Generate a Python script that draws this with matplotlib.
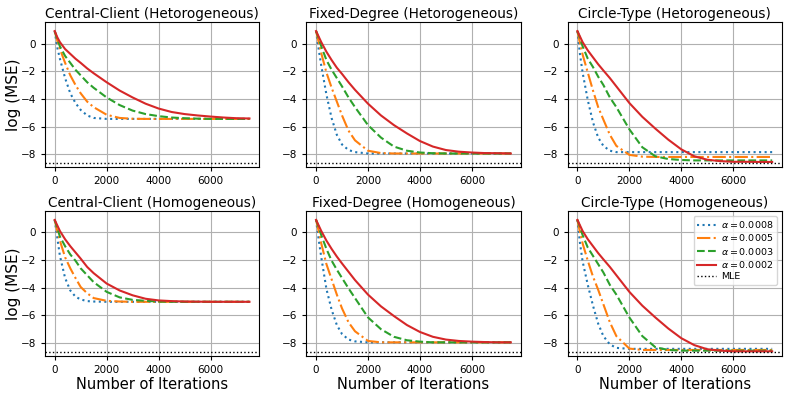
import matplotlib
matplotlib.use("Agg")
import matplotlib.pyplot as plt

iters = [0, 100, 200, 400, 600, 800, 1000, 1250, 1500, 2000, 2500, 3000,
         3500, 4000, 4500, 5000, 5500, 6000, 6500, 7000, 7500]

titles = ["Central-Client (Hetorogeneous)", "Fixed-Degree (Hetorogeneous)", "Circle-Type (Hetorogeneous)",
          "Central-Client (Homogeneous)", "Fixed-Degree (Homogeneous)", "Circle-Type (Homogeneous)"]

alpha_labels = [r"$\alpha = 0.0008$", r"$\alpha = 0.0005$", r"$\alpha = 0.0003$", r"$\alpha = 0.0002$"]
mle_value = -8.63

# Central-Client (Het)
cc_het_a8 = [0.9, -0.3, -1.1, -2.5, -3.6, -4.3, -4.8, -5.2, -5.38, -5.45, -5.45, -5.45, -5.45, -5.45, -5.45, -5.45, -5.45, -5.45, -5.45, -5.45, -5.45]
cc_het_a5 = [0.9, 0.2, -0.4, -1.4, -2.3, -3.0, -3.6, -4.2, -4.6, -5.15, -5.38, -5.44, -5.45, -5.45, -5.45, -5.45, -5.45, -5.45, -5.45, -5.45, -5.45]
cc_het_a3 = [0.9, 0.3, -0.2, -0.9, -1.4, -1.9, -2.3, -2.8, -3.2, -3.9, -4.45, -4.85, -5.1, -5.25, -5.35, -5.4, -5.43, -5.45, -5.45, -5.45, -5.45]
cc_het_a2 = [0.9, 0.45, 0.1, -0.4, -0.75, -1.1, -1.4, -1.8, -2.15, -2.8, -3.4, -3.9, -4.35, -4.7, -4.95, -5.1, -5.2, -5.28, -5.35, -5.4, -5.42]

# Fixed-Degree (Het)
fd_het_a8 = [0.9, -0.4, -1.6, -3.7, -5.4, -6.6, -7.3, -7.7, -7.85, -7.95, -7.95, -7.95, -7.95, -7.95, -7.95, -7.95, -7.95, -7.95, -7.95, -7.95, -7.95]
fd_het_a5 = [0.9, 0.1, -0.7, -2.1, -3.2, -4.2, -5.2, -6.3, -7.0, -7.75, -7.92, -7.95, -7.95, -7.95, -7.95, -7.95, -7.95, -7.95, -7.95, -7.95, -7.95]
fd_het_a3 = [0.9, 0.4, -0.2, -1.2, -1.9, -2.5, -3.1, -3.9, -4.6, -5.9, -6.8, -7.45, -7.75, -7.88, -7.93, -7.95, -7.95, -7.95, -7.95, -7.95, -7.95]
fd_het_a2 = [0.9, 0.5, 0.1, -0.6, -1.2, -1.75, -2.2, -2.8, -3.35, -4.35, -5.2, -5.9, -6.5, -7.05, -7.45, -7.7, -7.82, -7.88, -7.92, -7.93, -7.95]

# Circle-Type (Het)
ct_het_a8 = [0.9, -0.8, -2.1, -4.1, -5.7, -6.8, -7.4, -7.75, -7.85, -7.85, -7.85, -7.85, -7.85, -7.85, -7.85, -7.85, -7.85, -7.85, -7.85, -7.85, -7.85]
ct_het_a5 = [0.9, 0.0, -0.8, -2.1, -3.4, -4.6, -5.5, -6.6, -7.4, -8.05, -8.18, -8.2, -8.2, -8.2, -8.2, -8.2, -8.2, -8.2, -8.2, -8.2, -8.2]
ct_het_a3 = [0.9, 0.4, -0.2, -1.1, -1.7, -2.4, -3.0, -3.9, -4.6, -6.2, -7.5, -8.15, -8.35, -8.42, -8.45, -8.45, -8.45, -8.45, -8.45, -8.45, -8.45]
ct_het_a2 = [0.9, 0.5, 0.1, -0.5, -1.0, -1.5, -1.95, -2.5, -3.1, -4.3, -5.3, -6.15, -6.95, -7.65, -8.15, -8.4, -8.5, -8.55, -8.55, -8.56, -8.56]

# Central-Client (Hom)
cc_hom_a8 = [0.9, -0.4, -1.7, -3.3, -4.2, -4.65, -4.85, -4.97, -5.0, -5.02, -5.02, -5.02, -5.02, -5.02, -5.02, -5.02, -5.02, -5.02, -5.02, -5.02, -5.02]
cc_hom_a5 = [0.9, 0.1, -0.6, -1.8, -2.6, -3.3, -3.95, -4.4, -4.75, -4.95, -5.0, -5.02, -5.02, -5.02, -5.02, -5.02, -5.02, -5.02, -5.02, -5.02, -5.02]
cc_hom_a3 = [0.9, 0.3, -0.3, -1.0, -1.6, -2.05, -2.6, -3.1, -3.6, -4.3, -4.7, -4.88, -4.95, -5.0, -5.02, -5.02, -5.02, -5.02, -5.02, -5.02, -5.02]
cc_hom_a2 = [0.9, 0.5, 0.1, -0.5, -1.0, -1.45, -1.9, -2.5, -2.95, -3.7, -4.2, -4.55, -4.8, -4.92, -4.97, -5.0, -5.01, -5.02, -5.02, -5.02, -5.02]

# Fixed-Degree (Hom)
fd_hom_a8 = [0.9, -0.5, -1.8, -4.1, -5.6, -6.7, -7.35, -7.75, -7.88, -7.95, -7.95, -7.95, -7.95, -7.95, -7.95, -7.95, -7.95, -7.95, -7.95, -7.95, -7.95]
fd_hom_a5 = [0.9, 0.1, -0.8, -2.3, -3.4, -4.5, -5.5, -6.5, -7.15, -7.85, -7.95, -7.95, -7.95, -7.95, -7.95, -7.95, -7.95, -7.95, -7.95, -7.95, -7.95]
fd_hom_a3 = [0.9, 0.4, -0.2, -1.2, -2.05, -2.7, -3.3, -4.05, -4.75, -6.15, -7.0, -7.55, -7.8, -7.9, -7.95, -7.95, -7.95, -7.95, -7.95, -7.95, -7.95]
fd_hom_a2 = [0.9, 0.5, 0.1, -0.6, -1.2, -1.75, -2.25, -2.85, -3.45, -4.5, -5.35, -6.05, -6.7, -7.2, -7.55, -7.75, -7.85, -7.9, -7.93, -7.95, -7.95]

# Circle-Type (Hom)
ct_hom_a8 = [0.9, -0.8, -2.1, -3.8, -5.3, -6.6, -7.5, -8.1, -8.35, -8.42, -8.42, -8.42, -8.42, -8.42, -8.42, -8.42, -8.42, -8.42, -8.42, -8.42, -8.42]
ct_hom_a5 = [0.9, 0.0, -0.8, -2.05, -3.2, -4.15, -5.2, -6.5, -7.5, -8.4, -8.5, -8.5, -8.5, -8.5, -8.5, -8.5, -8.5, -8.5, -8.5, -8.5, -8.5]
ct_hom_a3 = [0.9, 0.4, -0.2, -1.1, -1.7, -2.3, -2.9, -3.8, -4.5, -6.15, -7.5, -8.3, -8.5, -8.55, -8.55, -8.55, -8.55, -8.55, -8.55, -8.55, -8.55]
ct_hom_a2 = [0.9, 0.5, 0.1, -0.5, -1.0, -1.5, -1.95, -2.5, -3.1, -4.3, -5.3, -6.15, -6.95, -7.65, -8.15, -8.45, -8.55, -8.6, -8.6, -8.6, -8.6]

panels = [
    [cc_het_a8, cc_het_a5, cc_het_a3, cc_het_a2],
    [fd_het_a8, fd_het_a5, fd_het_a3, fd_het_a2],
    [ct_het_a8, ct_het_a5, ct_het_a3, ct_het_a2],
    [cc_hom_a8, cc_hom_a5, cc_hom_a3, cc_hom_a2],
    [fd_hom_a8, fd_hom_a5, fd_hom_a3, fd_hom_a2],
    [ct_hom_a8, ct_hom_a5, ct_hom_a3, ct_hom_a2],
]

colors = ["#1f77b4", "#ff7f0e", "#2ca02c", "#d62728"]
styles = [":", "-.", "--", "-"]

fig, axes = plt.subplots(2, 3, figsize=(7.89, 3.94), dpi=100)
fig.subplots_adjust(left=0.057, right=0.991, top=0.944, bottom=0.096, wspace=0.22, hspace=0.30)

for i, ax in enumerate(axes.flat):
    for series, c, ls, lab in zip(panels[i], colors, styles, alpha_labels):
        ax.plot(iters, series, color=c, linestyle=ls, linewidth=1.5, label=lab)
    ax.axhline(mle_value, color="black", linestyle=":", linewidth=1.0, label="MLE")
    ax.set_ylim(-8.95, 1.55)
    ax.set_yticks([0, -2, -4, -6, -8])
    ax.set_xticks([0, 2000, 4000, 6000])
    ax.grid(True, color="#b0b0b0", linewidth=0.8)
    ax.tick_params(labelsize=7.5, length=3)
    ax.set_title(titles[i], fontsize=9.8, pad=3)
    if i % 3 == 0:
        ax.set_ylabel("log (MSE)", fontsize=11, labelpad=0)
    if i >= 3:
        ax.set_xlabel("Number of Iterations", fontsize=10.5, labelpad=1)

axes[1, 2].legend(loc="upper right", fontsize=6.8, labelspacing=0.25, borderpad=0.35,
                  handletextpad=0.6)

fig.savefig("out.png", dpi=100)
